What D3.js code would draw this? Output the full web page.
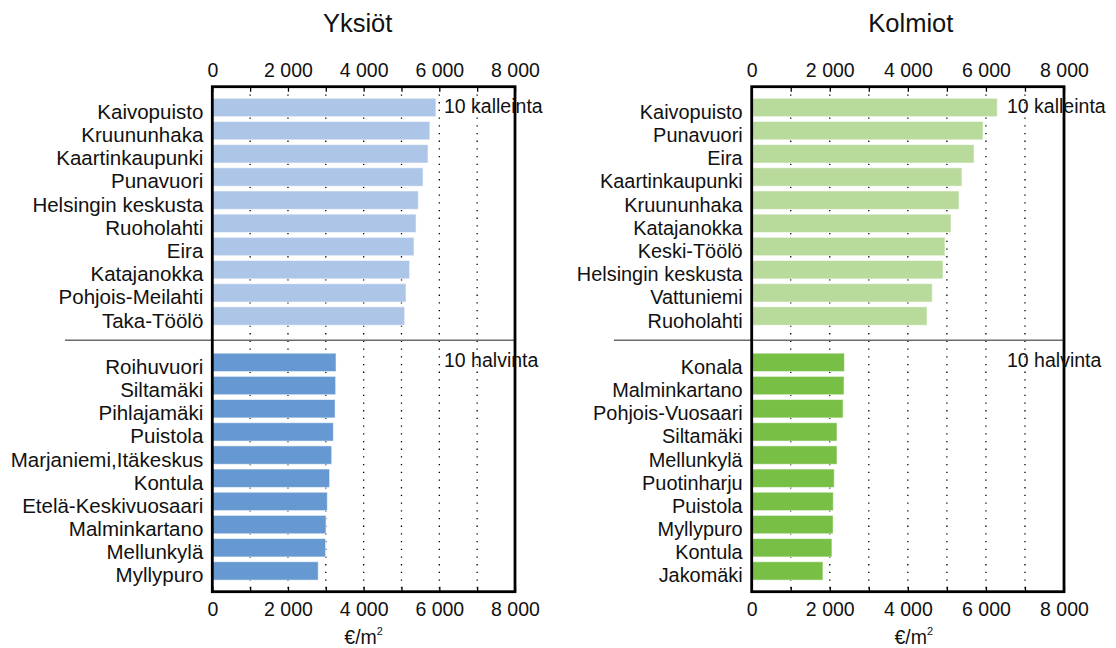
<!DOCTYPE html>
<html>
<head>
<meta charset="utf-8">
<script src="https://cdn.jsdelivr.net/npm/d3@7/dist/d3.min.js"></script>
<style>
  html, body { margin: 0; padding: 0; background: #fff; }
  svg { display: block; font-family: "Liberation Sans", Arial, sans-serif; }
</style>
</head>
<body>
<svg id="chart" width="1116" height="648"></svg>
<script>
// ---- Data ----
const yksiotTopNames = ["Kaivopuisto", "Kruununhaka", "Kaartinkaupunki", "Punavuori", "Helsingin keskusta", "Ruoholahti", "Eira", "Katajanokka", "Pohjois-Meilahti", "Taka-Töölö"];
const yksiotTopValues = [5910, 5750, 5700, 5570, 5445, 5385, 5330, 5215, 5120, 5085];
const yksiotBottomNames = ["Roihuvuori", "Siltamäki", "Pihlajamäki", "Puistola", "Marjaniemi,Itäkeskus", "Kontula", "Etelä-Keskivuosaari", "Malminkartano", "Mellunkylä", "Myllypuro"];
const yksiotBottomValues = [3270, 3260, 3245, 3200, 3155, 3100, 3040, 3005, 2995, 2800];

const kolmiotTopNames = ["Kaivopuisto", "Punavuori", "Eira", "Kaartinkaupunki", "Kruununhaka", "Katajanokka", "Keski-Töölö", "Helsingin keskusta", "Vattuniemi", "Ruoholahti"];
const kolmiotTopValues = [6290, 5925, 5695, 5385, 5310, 5105, 4950, 4900, 4625, 4490];
const kolmiotBottomNames = ["Konala", "Malminkartano", "Pohjois-Vuosaari", "Siltamäki", "Mellunkylä", "Puotinharju", "Puistola", "Myllypuro", "Kontula", "Jakomäki"];
const kolmiotBottomValues = [2375, 2365, 2340, 2185, 2185, 2115, 2090, 2085, 2055, 1825];

const panelTitles = ["Yksiöt", "Kolmiot"];
const labelTicks = [0, 2000, 4000, 6000, 8000];
const minorTicks = [0, 1000, 2000, 3000, 4000, 5000, 6000, 7000, 8000];
const gridTicks = [1000, 2000, 3000, 4000, 5000, 6000, 7000];
const topLabel = "10 kalleinta";
const bottomLabel = "10 halvinta";
const unitLabel = "€/m";

// ---- Layout ----
const svg = d3.select("#chart");
const FONT = 19.5;
const frameTop = 86.7, frameBottom = 591.7;

const locale = d3.formatLocale({ decimal: ",", thousands: "\u00a0", grouping: [3], currency: ["", "€"] });
const fmt = locale.format(",d");

const panels = [
  { title: panelTitles[0], x0: 212.3, x1: 515, sepStart: 65,
    topNames: yksiotTopNames, topValues: yksiotTopValues,
    botNames: yksiotBottomNames, botValues: yksiotBottomValues,
    light: "#adc6e8", dark: "#6699d1", noteX: 444, titleDx: -6, unitDx: 0, catFont: 20.5 },
  { title: panelTitles[1], x0: 751.7, x1: 1064, sepStart: 614,
    topNames: kolmiotTopNames, topValues: kolmiotTopValues,
    botNames: kolmiotBottomNames, botValues: kolmiotBottomValues,
    light: "#b8da9b", dark: "#77bf45", noteX: 1007, titleDx: 3, unitDx: 6, catFont: 19.9 }
];

panels.forEach(p => {
  const x = d3.scaleLinear().domain([0, 8000]).range([p.x0, p.x1]);
  const slots = d3.range(21);
  const y = d3.scaleBand().domain(slots).range([frameTop, frameBottom]).paddingInner(0.207).paddingOuter(0.5);

  const rows = [];
  p.topNames.forEach((n, i) => rows.push({ name: n, value: p.topValues[i], slot: i, color: p.light }));
  p.botNames.forEach((n, i) => rows.push({ name: n, value: p.botValues[i], slot: i + 11, color: p.dark }));

  const g = svg.append("g");

  // dotted grid lines
  g.selectAll("line.grid").data(gridTicks).join("line")
    .attr("x1", d => x(d)).attr("x2", d => x(d))
    .attr("y1", frameTop).attr("y2", frameBottom)
    .attr("stroke", "#000").attr("stroke-width", 1.3)
    .attr("stroke-dasharray", "1.3,6.4");

  // bars
  g.selectAll("rect.bar").data(rows).join("rect")
    .attr("x", x(0)).attr("y", d => y(d.slot))
    .attr("width", d => x(d.value) - x(0)).attr("height", y.bandwidth())
    .attr("fill", d => d.color)
    .attr("stroke", "rgba(255,255,255,0.55)").attr("stroke-width", 1);

  // category labels
  g.selectAll("text.cat").data(rows).join("text")
    .attr("x", p.x0 - 9).attr("y", d => y(d.slot) + y.bandwidth() / 2 + 11.5)
    .attr("text-anchor", "end").attr("font-size", p.catFont).attr("fill", "#111")
    .text(d => d.name);

  // separator
  const sepY = y(10) + y.bandwidth() / 2 + 1;
  g.append("line").attr("x1", p.sepStart).attr("x2", p.x1)
    .attr("y1", sepY).attr("y2", sepY)
    .attr("stroke", "#6b6b6b").attr("stroke-width", 1.6);

  // minor ticks inside frame
  g.append("g").attr("transform", `translate(0,${frameTop})`)
    .call(d3.axisTop(x).tickValues(minorTicks).tickSize(-5).tickFormat(""))
    .call(s => s.select(".domain").remove())
    .call(s => s.selectAll("line").attr("stroke-width", 1.3));
  g.append("g").attr("transform", `translate(0,${frameBottom})`)
    .call(d3.axisBottom(x).tickValues(minorTicks).tickSize(-5).tickFormat(""))
    .call(s => s.select(".domain").remove())
    .call(s => s.selectAll("line").attr("stroke-width", 1.3));

  // tick labels
  g.append("g").attr("transform", `translate(0,${frameTop})`)
    .call(d3.axisTop(x).tickValues(labelTicks).tickSize(0).tickPadding(10).tickFormat(fmt))
    .call(s => s.select(".domain").remove())
    .call(s => s.selectAll("text").attr("font-size", FONT).attr("font-family", "Liberation Sans, Arial, sans-serif").attr("fill", "#111"));
  g.append("g").attr("transform", `translate(0,${frameBottom})`)
    .call(d3.axisBottom(x).tickValues(labelTicks).tickSize(0).tickPadding(10.5).tickFormat(fmt))
    .call(s => s.select(".domain").remove())
    .call(s => s.selectAll("text").attr("font-size", FONT).attr("font-family", "Liberation Sans, Arial, sans-serif").attr("fill", "#111"));

  // frame
  g.append("rect").attr("x", p.x0).attr("y", frameTop)
    .attr("width", p.x1 - p.x0).attr("height", frameBottom - frameTop)
    .attr("fill", "none").attr("stroke", "#000").attr("stroke-width", 2.8);

  // annotations
  g.append("text").attr("x", p.noteX).attr("y", y(0) + y.bandwidth() / 2 + 6)
    .attr("font-size", FONT).attr("fill", "#111").text(topLabel);
  g.append("text").attr("x", p.noteX).attr("y", y(11) + y.bandwidth() / 2 + 4.5)
    .attr("font-size", FONT).attr("fill", "#111").text(bottomLabel);

  // title
  const cx = (p.x0 + p.x1) / 2;
  g.append("text").attr("x", cx + p.titleDx).attr("y", 31.7)
    .attr("text-anchor", "middle").attr("font-size", 25.5).attr("fill", "#111")
    .text(p.title);

  // unit label
  const u = g.append("text").attr("x", cx + p.unitDx).attr("y", 644)
    .attr("text-anchor", "middle").attr("font-size", FONT).attr("fill", "#111");
  u.append("tspan").text(unitLabel);
  u.append("tspan").attr("font-size", 11).attr("dy", -9).text("2");
});
</script>
</body>
</html>
